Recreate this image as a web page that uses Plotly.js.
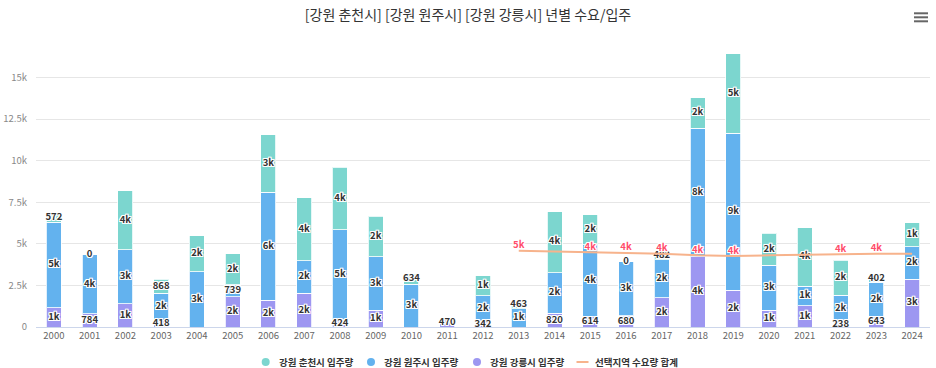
<!DOCTYPE html>
<html><head><meta charset="utf-8">
<script src="https://cdn.plot.ly/plotly-3.0.1.min.js"></script>
<style>html,body{margin:0;padding:0;background:#fff}#chart{width:936px;height:368px}</style>
</head><body><div id="chart"></div>
<script>
// ---- data ----
const years = ['2000','2001','2002','2003','2004','2005','2006','2007','2008','2009','2010','2011','2012',
               '2013','2014','2015','2016','2017','2018','2019','2020','2021','2022','2023','2024'];
const seriesNames = ['강원 춘천시 입주량','강원 원주시 입주량','강원 강릉시 입주량','선택지역 수요량 합계'];
// 강릉시 (bottom)
const gangneung = [1170, 784, 1410, 418, null, 1810, 1610, 2020, 424, 1010, null, 470, 342,
                   null, 820, 614, 680, 1770, 4230, 2220, 1010, 1290, 238, 643, 2880];
// 원주시 (middle)
const wonju = [5120, 3550, 3230, 1600, 3330, 739, 6490, 1970, 5420, 3220, 2580, null, 1550,
               1100, 2450, 4330, 3230, 2260, 7730, 9440, 2700, 1170, 1680, 2060, 1960];
// 춘천시 (top)
const chuncheon = [572, 0, 3550, 868, 2170, 1850, 3450, 3770, 3750, 2420, 634, null, 1200,
                   463, 3670, 1810, 0, 482, 1830, 4780, 1940, 3510, 2090, 402, 1430];
// 수요량 합계 (line)
const demand = [null, null, null, null, null, null, null, null, null, null, null, null, null,
                4580, 4540, 4490, 4480, 4400, 4310, 4270, 4310, 4350, 4370, 4400, 4400];
// demand labels hidden by overlap in the original
const demandLabelHidden = ['2014','2020','2021','2024'];
const yTickVals = [0, 2500, 5000, 7500, 10000, 12500, 15000];
const yTickText = ['0', '2.5k', '5k', '7.5k', '10k', '12.5k', '15k'];
const chartTitle = '[강원 춘천시] [강원 원주시] [강원 강릉시] 년별 수요/입주';

// ---- styles ----
const FONT = '"Noto Sans CJK KR", "Noto Sans", sans-serif';
const colors = {teal:'#7cd6cf', blue:'#63b2ee', purple:'#9d97f1', line:'#f7b38c', lineLabel:'#ff4d6a'};
const outline = '1px 0 0 #fff, -1px 0 0 #fff, 0 1px 0 #fff, 0 -1px 0 #fff, 1px 1px 0 #fff, -1px -1px 0 #fff, 1px -1px 0 #fff, -1px 1px 0 #fff';

function fmt(v){ return v >= 1000 ? Math.round(v/1000) + 'k' : String(Math.round(v)); }

const stackOrder = [
  {vals: gangneung, name: seriesNames[2], color: colors.purple},
  {vals: wonju, name: seriesNames[1], color: colors.blue},
  {vals: chuncheon, name: seriesNames[0], color: colors.teal}
];

const traces = [];
stackOrder.forEach(s => {
  traces.push({
    type: 'bar', x: years, y: s.vals, name: s.name,
    marker: {color: s.color, line: {color: 'rgba(255,255,255,0.8)', width: 1}},
    hoverinfo: 'x+y+name'
  });
});

// data labels at segment centres
const base = years.map(() => 0);
stackOrder.forEach(s => {
  const lx = [], ly = [], lt = [];
  s.vals.forEach((v, i) => {
    if (v === null) return;
    lx.push(years[i]); ly.push(base[i] + v / 2); lt.push(fmt(v));
    base[i] += v;
  });
  traces.push({
    type: 'scatter', mode: 'text', x: lx, y: ly, text: lt, hoverinfo: 'skip',
    textposition: 'middle center',
    textfont: {family: FONT, size: 9.5, color: '#333', weight: 'bold', shadow: outline},
    cliponaxis: false
  });
});

// demand line
traces.push({
  type: 'scatter', mode: 'lines+text', x: years, y: demand, name: seriesNames[3],
  line: {color: colors.line, width: 2},
  text: demand.map((v, i) => (v === null || demandLabelHidden.includes(years[i])) ? '' : fmt(v)),
  textposition: 'top center',
  textfont: {family: FONT, size: 9.5, color: colors.lineLabel, weight: 'bold', shadow: outline},
  cliponaxis: false, connectgaps: false
});

// ---- layout helpers (pixel -> paper) ----
const M = {l: 36, r: 6, t: 40, b: 41};
const W = 936, H = 368;
const pw = W - M.l - M.r, ph = H - M.t - M.b;
const px = p => (p - M.l) / pw;
const py = p => (H - M.b - p) / ph;

const shapes = [];
const annotations = [];
// legend
const legendY = 362;
const legendItems = [
  {kind: 'dot', cx: 265.7, tx: 276.5, color: colors.teal, text: seriesNames[0]},
  {kind: 'dot', cx: 371, tx: 381.5, color: colors.blue, text: seriesNames[1]},
  {kind: 'dot', cx: 477, tx: 487.5, color: colors.purple, text: seriesNames[2]},
  {kind: 'line', cx: 582.5, tx: 593, color: colors.line, text: seriesNames[3]}
];
legendItems.forEach(it => {
  if (it.kind === 'dot') {
    shapes.push({type: 'circle', xref: 'paper', yref: 'paper',
      x0: px(it.cx - 4), x1: px(it.cx + 4), y0: py(legendY + 4), y1: py(legendY - 4),
      fillcolor: it.color, line: {width: 0}});
  } else {
    shapes.push({type: 'line', xref: 'paper', yref: 'paper',
      x0: px(it.cx - 6), x1: px(it.cx + 6), y0: py(legendY), y1: py(legendY),
      line: {color: it.color, width: 2}});
  }
  annotations.push({xref: 'paper', yref: 'paper', x: px(it.tx), y: py(legendY),
    xanchor: 'left', yanchor: 'middle', showarrow: false, text: it.text,
    font: {family: FONT, size: 9.5, color: '#333', weight: 'bold'}});
});
// hamburger menu icon
[13.3, 17.3, 21.3].forEach(yy => {
  shapes.push({type: 'line', xref: 'paper', yref: 'paper',
    x0: px(914), x1: px(928), y0: py(yy), y1: py(yy),
    line: {color: '#666', width: 2}});
});

const layout = {
  width: W, height: H, margin: M,
  paper_bgcolor: '#fff', plot_bgcolor: '#fff',
  font: {family: FONT, color: '#666'},
  title: {text: chartTitle, x: 0.5, xref: 'container', xanchor: 'center',
          y: 1 - 15 / H, yref: 'container', yanchor: 'middle',
          font: {family: FONT, size: 14, color: '#333'}},
  barmode: 'stack', bargap: 0.58,
  showlegend: false,
  xaxis: {type: 'category', range: [-0.5, years.length - 0.5], autorange: false,
          showgrid: false, showline: true, linecolor: '#ccd6eb', linewidth: 1,
          ticks: '', tickfont: {family: FONT, size: 9.5, color: '#666'}, fixedrange: true},
  yaxis: {range: [0, 17260], autorange: false, tickvals: yTickVals, ticktext: yTickText,
          showgrid: true, gridcolor: '#e6e6e6', zeroline: false, ticks: '',
          ticklabelstandoff: 8,
          tickfont: {family: FONT, size: 9.5, color: '#888'}, fixedrange: true},
  shapes: shapes, annotations: annotations,
  hovermode: 'x'
};

Plotly.newPlot('chart', traces, layout, {displayModeBar: false, responsive: false});
</script>
</body></html>
